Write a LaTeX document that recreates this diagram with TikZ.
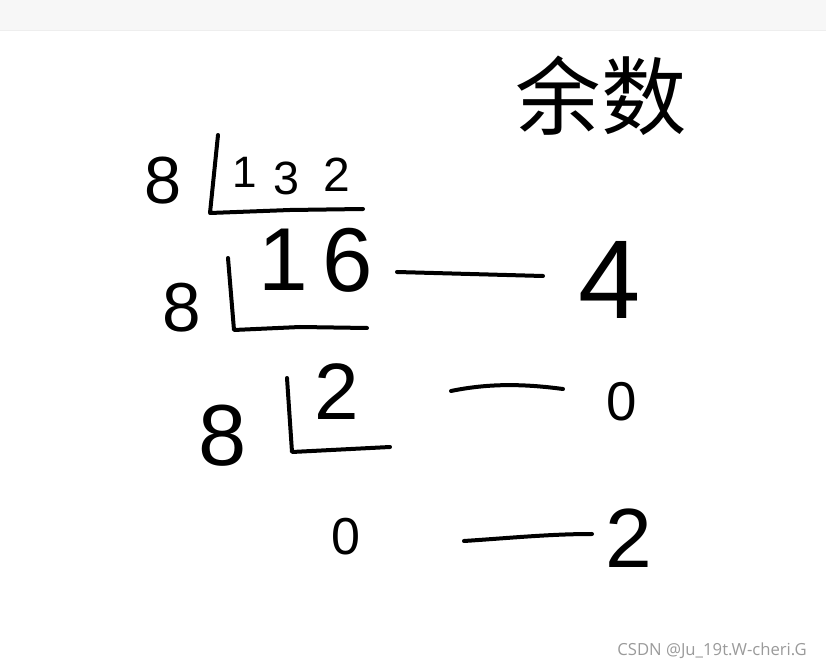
\documentclass[tikz,border=0pt]{standalone}
\usepackage{fontspec}
\usepackage{xcolor}
\usepackage{tikz}
\usetikzlibrary{positioning}
\newfontfamily\handfont{Liberation Sans}
\newfontfamily\cjkfont{Noto Sans CJK SC}
\newfontfamily\markfont{Open Sans}
\definecolor{barGray}{HTML}{F7F7F7}
\definecolor{barLine}{HTML}{EEEEEE}
\definecolor{markGray}{HTML}{9A9A9A}

\tikzset{
  pen/.style={line width=3pt, line cap=round, line join=round},
  digit/.style={inner sep=0pt, font=\fontsize{#1}{#1}\selectfont\handfont}
}

\begin{document}
\begin{tikzpicture}[x=0.75pt, y=-0.75pt]
    \useasboundingbox (0,0) rectangle (826,670);

    % Top bar
    \fill[barGray] (0,0) rectangle (826,30);
    \draw[barLine, line width=0.75pt] (0,30.5) -- (826,30.5);

    % Heading
    \node[inner sep=0pt, font=\fontsize{64}{64}\selectfont\cjkfont] (head) at (601,96) {余数};

    % Divisors
    \node[digit=50] (dv1) at (163,181) {8};
    \node[digit=52] (dv2) at (182,308) {8};
    \node[digit=65] (dv3) at (223,436) {8};

    % Dividends
    \node[digit=33] (q1) at (245,172) {1};
    \node[digit=35] (q2) at (286,178) {3};
    \node[digit=36] (q3) at (337,175) {2};
    \node[digit=67] (s1) at (283,260) {1};
    \node[digit=68] (s2) at (348,260) {6};
    \node[digit=60] (t1) at (337,392) {2};
    \node[digit=39] (z1) at (346,537) {0};

    % Division brackets
    \draw[pen] (218,135) -- (210,213) -- (290,210) -- (363,209);
    \draw[pen] (228,258) -- (234,330) -- (300,327) -- (367,328);
    \draw[pen] (287,378) -- (292,452) -- (390,447);

    % Remainders
    \node[digit=84] (r1) at (610,280) {4};
    \node[digit=41] (r2) at (622,402) {0};
    \node[digit=63] (r3) at (629,538) {2};

    % Dashes to remainders
    \coordinate (a1) at (397,272);
    \coordinate (b1) at (543,276);
    \coordinate (a2) at (451,391);
    \coordinate (b2) at (563,389);
    \coordinate (a3) at (464,541);
    \coordinate (b3) at (592,534);
    \draw[pen] (a1) -- (b1);
    \draw[pen] (a2) .. controls (490,383) and (525,384) .. (b2);
    \draw[pen] (a3) .. controls (510,538) and (550,534) .. (b3);

    % Watermark
    \node[markGray, inner sep=0pt, font=\fontsize{12.5}{12.5}\selectfont\markfont] (mark) at (712,651) {CSDN @Ju\_19t.W-cheri.G};
\end{tikzpicture}
\end{document}
